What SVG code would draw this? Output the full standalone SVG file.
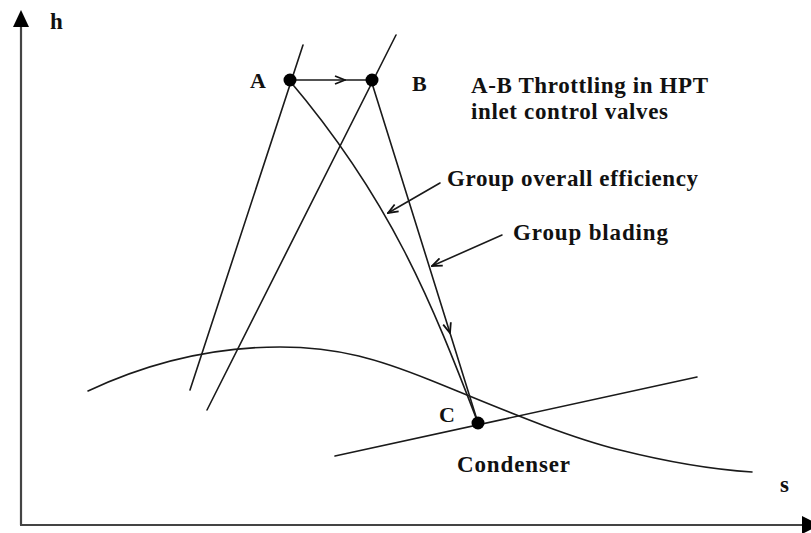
<svg xmlns="http://www.w3.org/2000/svg" width="811" height="533" viewBox="0 0 811 533">
<style>
.ln{fill:none;stroke:#1a1a1a;stroke-width:1.6;stroke-linecap:round}
.ax{fill:none;stroke:#444;stroke-width:2.2}
.t{font-family:"Liberation Serif","Times New Roman",serif;font-weight:bold;fill:#111;font-size:23px}
.lbl{font-family:"Liberation Serif","Times New Roman",serif;font-weight:bold;fill:#111;font-size:22px}
.dot{fill:#000}
</style>
<defs>
<marker id="ah" viewBox="0 0 12 10" refX="11" refY="5" markerWidth="12" markerHeight="10" markerUnits="userSpaceOnUse" orient="auto">
<path d="M1,1 L11,5 L1,9" fill="none" stroke="#111" stroke-width="1.8"/>
</marker>
</defs>
<rect width="811" height="533" fill="#fff"/>
<g id="axes">
<line class="ax" x1="21" y1="26" x2="21" y2="525"/>
<line class="ax" x1="20" y1="525" x2="803" y2="525"/>
<polygon points="21,10 13,27 29,27" fill="#000"/>
<polygon points="820,525 802,516 802,534" fill="#000"/>
<text class="t" x="50" y="29" font-size="24">h</text>
<text class="t" x="780" y="492" font-size="24">s</text>
</g>
<g id="connectors">
<line class="ln" x1="303" y1="45" x2="190" y2="390"/>
<line class="ln" x1="396" y1="35" x2="207" y2="410"/>
<path class="ln" d="M88,391 C150,362 215,347 280,347 C340,347 380,360 430,380 C490,404 560,435 620,450 C680,465 720,470 752,472"/>
<line class="ln" x1="335" y1="456" x2="697" y2="377"/>
<path class="ln" d="M289,80 C391,200 432,303 478,423"/>
<line class="ln" x1="289" y1="80" x2="345" y2="80" marker-end="url(#ah)"/>
<line class="ln" x1="345" y1="80" x2="371" y2="80"/>
<line class="ln" x1="371" y1="80" x2="450" y2="333" marker-end="url(#ah)"/>
<line class="ln" x1="450" y1="333" x2="478" y2="423"/>
<line class="ln" x1="440" y1="183" x2="388" y2="213" marker-end="url(#ah)"/>
<line class="ln" x1="502" y1="235" x2="432" y2="266" marker-end="url(#ah)"/>
</g>
<g id="A">
<circle class="dot" cx="290" cy="80" r="6.5"/>
<text class="lbl" x="250" y="88">A</text>
</g>
<g id="B">
<circle class="dot" cx="372" cy="80" r="6.5"/>
<text class="lbl" x="412" y="91">B</text>
</g>
<g id="C">
<circle class="dot" cx="478" cy="423" r="6.5"/>
<text class="lbl" x="439" y="422">C</text>
</g>
<g id="labels">
<text class="t" x="471" y="93" textLength="237">A-B Throttling in HPT</text>
<text class="t" x="471" y="119" textLength="197">inlet control valves</text>
<text class="t" x="447" y="186" textLength="251">Group overall efficiency</text>
<text class="t" x="513" y="240" textLength="155">Group blading</text>
<text class="t" x="457" y="472" textLength="113">Condenser</text>
</g>
</svg>
